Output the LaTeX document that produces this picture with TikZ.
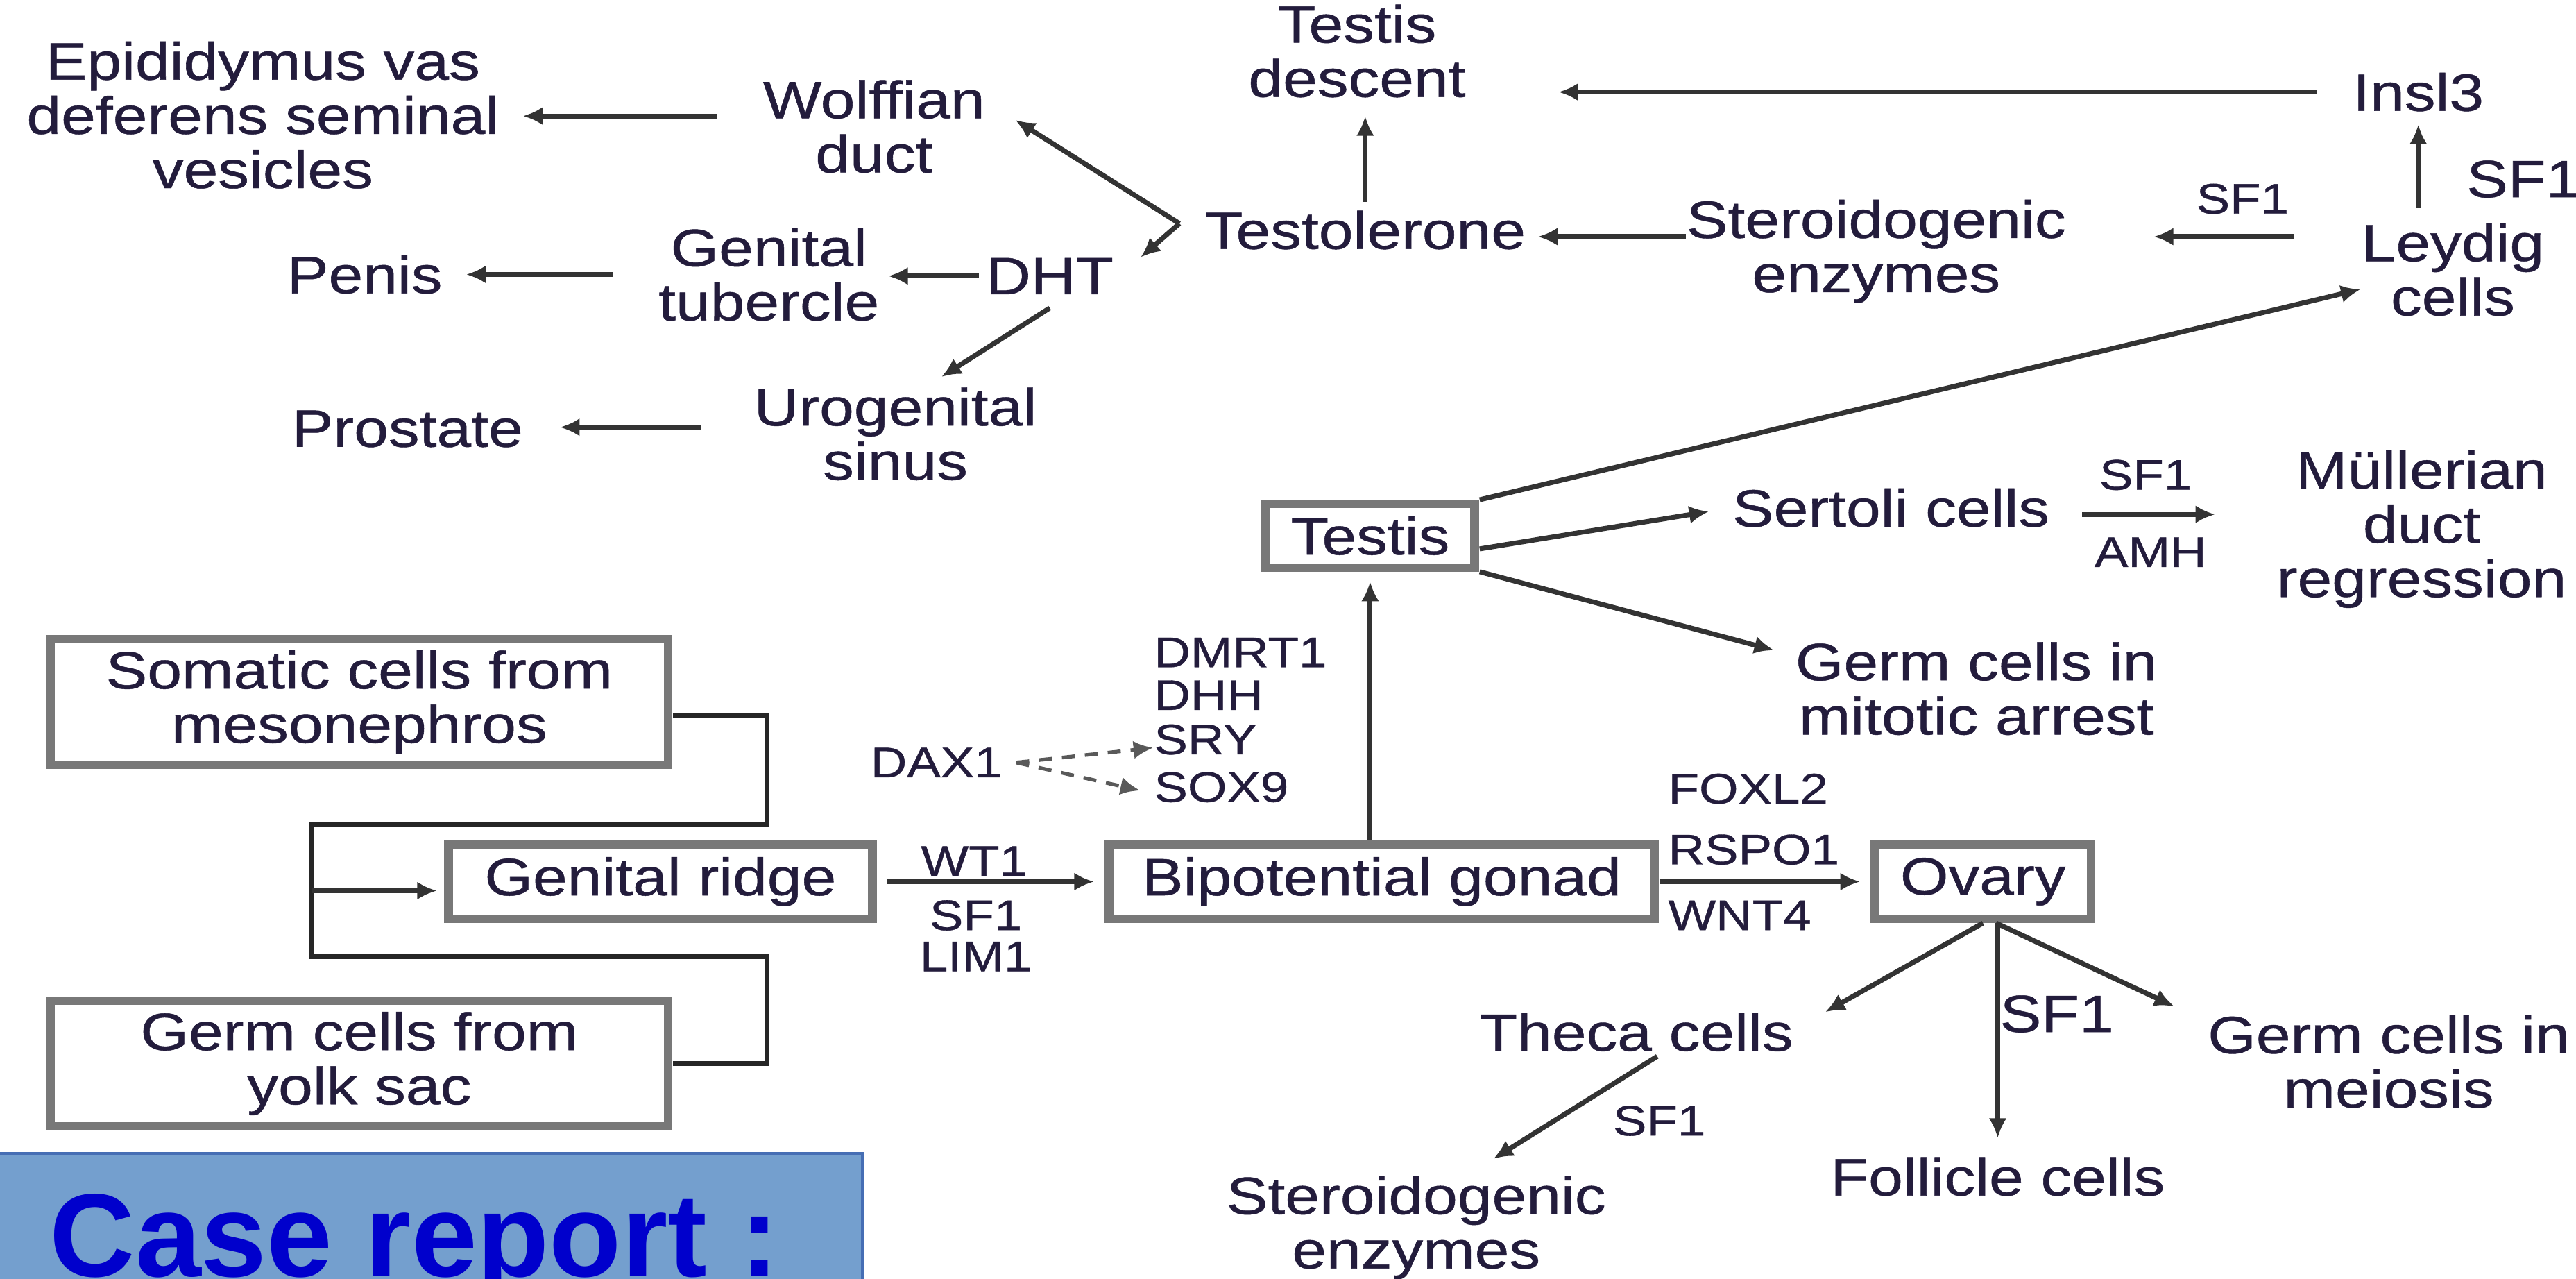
\documentclass[tikz,border=0pt]{standalone}
\usepackage{fontspec}
\setmainfont{Liberation Sans}
\newfontfamily\inkfont{Liberation Sans}[FakeBold=0.6]
\usetikzlibrary{arrows.meta}
\definecolor{ink}{RGB}{35,28,60}
\definecolor{boxgray}{RGB}{120,120,120}
\definecolor{casefill}{RGB}{116,159,206}
\definecolor{caseedge}{RGB}{70,110,180}
\definecolor{caseblue}{RGB}{0,0,204}

\begin{document}
\begin{tikzpicture}[x=0.5pt, y=-0.5pt]
    \tikzstyle{term}=[font=\inkfont\fontsize{16}{16.5}\selectfont, text=ink, align=center, inner sep=0pt, xscale=1.18]
    \tikzstyle{gene}=[font=\inkfont\fontsize{13}{13}\selectfont, text=ink, inner sep=0pt, xscale=1.18]
    \tikzstyle{cellbox}=[term, draw=boxgray, line width=2.6pt, minimum height=22.6pt]
    \tikzstyle{flow}=[-{Latex[length=6pt,width=5.5pt]}, line width=1.5pt, draw=black!80]
    \tikzstyle{dashflow}=[flow, line width=1.1pt, dash pattern=on 4pt off 3pt, draw=black!65]
    \tikzstyle{wire}=[line width=1.5pt, draw=black!85]
    % \draw (0, 0) grid (1568, 778);
    \useasboundingbox (0,0) rectangle (1568,778);
    \fill[white] (0,0) rectangle (1568,778);

    % case report banner
    \fill[casefill] (0,702) rectangle (525,790);
    \draw[caseedge, line width=0.8pt] (0,702) -- (525,702) -- (525,790);
    \node[anchor=base west, inner sep=0pt, font=\fontsize{36}{36}\selectfont\bfseries, text=caseblue] (case-report) at (30,777) {Case report :};

    % androgen side
    \node[term] (epididymis) at (160,70) {Epididymus vas\\deferens seminal\\vesicles};
    \node[term] (wolffian) at (532,77) {Wolffian\\duct};
    \node[term] (descent) at (826,31) {Testis\\descent};
    \node[term] (insl3) at (1472,56) {Insl3};
    \node[term] (testolerone) at (831,140) {Testolerone};
    \node[term] (steroid-top) at (1142,153) {Steroidogenic\\enzymes};
    \node[term] (leydig) at (1493,164) {Leydig\\cells};
    \node[gene] (sf1-leydig) at (1365,121) {SF1};
    \node[term] (sf1-insl3) at (1536,109) {SF1};
    \node[term] (tubercle) at (468,167) {Genital\\tubercle};
    \node[term] (dht) at (639,168) {DHT};
    \node[term] (penis) at (222,167) {Penis};
    \node[term] (urogenital) at (545,264) {Urogenital\\sinus};
    \node[term] (prostate) at (248,261) {Prostate};
    \coordinate (fork) at ([xshift=-7.5pt,yshift=2pt]testolerone.west);

    % gonads
    \node[cellbox, minimum width=159.3pt, minimum height=38.2pt] (somatic) at (218.7,427.2) {Somatic cells from\\mesonephros};
    \node[cellbox, minimum width=159.3pt, minimum height=38.2pt] (germ-yolk) at (218.7,647.2) {Germ cells from\\yolk sac};
    \node[cellbox, minimum width=109.3pt] (genital-ridge) at (402,536.5) {Genital ridge};
    \node[cellbox, minimum width=140.7pt] (bipotential) at (841,536.5) {Bipotential gonad};
    \node[cellbox, minimum width=55.7pt] (ovary) at (1207,536.5) {Ovary};
    \node[cellbox, minimum width=53.9pt, minimum height=19.3pt] (testis) at (834,326) {Testis};
    \node[term] (sertoli) at (1151,309) {Sertoli cells};
    \node[gene] (sf1-amh) at (1306,289) {SF1};
    \node[gene] (amh) at (1309,336) {AMH};
    \node[term] (mullerian) at (1474,322) {Müllerian\\duct\\regression};
    \node[term] (germ-arrest) at (1203,419) {Germ cells in\\mitotic arrest};
    \node[gene, anchor=west] (dmrt1) at (702,397) {DMRT1};
    \node[gene, anchor=west] (dhh) at (702,423) {DHH};
    \node[gene, anchor=west] (sry) at (702,450) {SRY};
    \node[gene, anchor=west] (sox9) at (702,479) {SOX9};
    \node[gene] (dax1) at (570,464) {DAX1};
    \node[gene] (wt1) at (593,524) {WT1};
    \node[gene] (sf1-ridge) at (594,557) {SF1};
    \node[gene] (lim1) at (594,582) {LIM1};
    \node[gene, anchor=west] (foxl2) at (1015,480) {FOXL2};
    \node[gene, anchor=west] (rspo1) at (1015,517) {RSPO1};
    \node[gene, anchor=west] (wnt4) at (1015,557) {WNT4};
    \node[term] (theca) at (996,628) {Theca cells};
    \node[term] (sf1-follicle) at (1252,617) {SF1};
    \node[term] (follicle) at (1216,716) {Follicle cells};
    \node[term] (germ-meiosis) at (1454,646) {Germ cells in\\meiosis};
    \node[gene] (sf1-theca) at (1010,682) {SF1};
    \node[term] (steroid-low) at (862,747) {Steroidogenic\\enzymes};
    \coordinate (junction) at (190,542);

    \draw[flow, shorten <=13.7pt, shorten >=7pt] ([yshift=3.2pt]wolffian.west) -- ([yshift=3.2pt]wolffian.west -| epididymis.east);
    \draw[flow] (fork) -- ([xshift=9pt,yshift=2pt]wolffian.east);
    \draw[flow] (fork) -- ([xshift=8pt]dht.north east);
    \draw[flow, shorten <=2pt, shorten >=2.5pt] (dht.west) -- (dht.west -| tubercle.east);
    \draw[flow, shorten <=13.7pt, shorten >=7pt] (tubercle.west) -- (tubercle.west -| penis.east);
    \draw[flow] ([yshift=-4pt]dht.south) -- ([xshift=14pt,yshift=3pt]urogenital.north);
    \draw[flow, shorten <=16pt, shorten >=11pt] ([yshift=2pt]urogenital.west) -- ([yshift=2pt]urogenital.west -| prostate.east);
    \draw[flow, shorten >=3.5pt] ([yshift=4.5pt]steroid-top.west) -- ([yshift=4.5pt]steroid-top.west -| testolerone.east);
    \draw[flow, shorten <=20.5pt, shorten >=26.5pt] ([yshift=4.5pt]steroid-top.east -| leydig.west) -- ([yshift=4.5pt]steroid-top.east);
    \draw[flow, shorten <=4.3pt, shorten >=3.8pt] (leydig.north -| insl3.south) -- (insl3.south);
    \draw[flow, shorten <=10.5pt, shorten >=28pt] (insl3.west) -- (insl3.west -| descent.east);
    \draw[flow, shorten <=2.5pt, shorten >=5.5pt] (testolerone.north) -- (testolerone.north |- descent.south);

    \draw[flow] (testis.north east) -- ([yshift=-6pt]leydig.west);
    \draw[flow, shorten >=7pt] ([yshift=-4pt]testis.east) -- (sertoli.west);
    \draw[flow, shorten <=9.7pt, shorten >=18.5pt] ([yshift=-2pt]sertoli.east) -- ([yshift=-2pt]sertoli.east -| mullerian.west);
    \draw[flow, shorten >=6.5pt] (testis.south east) -- ([yshift=10pt]germ-arrest.west);
    \draw[flow, shorten >=3pt] (bipotential.north -| testis.south) -- (testis.south);
    \draw[flow, shorten <=3pt, shorten >=3pt] (genital-ridge.east) -- (bipotential.west);
    \draw[flow, shorten >=3pt] (bipotential.east) -- (ovary.west);
    \draw[flow] (ovary.south) -- ([xshift=9.5pt]theca.north east);
    \draw[flow, shorten >=5.7pt] (ovary.south -| follicle.north) -- (follicle.north);
    \draw[flow] ([xshift=4pt]ovary.south) -- ([xshift=-10pt,yshift=2.5pt]germ-meiosis.north west);
    \draw[flow, shorten <=2.5pt] ([xshift=8.5pt]theca.south) -- ([xshift=23.5pt,yshift=5pt]steroid-low.north);
    \draw[dashflow] ([xshift=4pt]dax1.east) -- ([yshift=-2.5pt]sry.west);
    \draw[dashflow] ([xshift=4pt]dax1.east) -- ([xshift=-4pt,yshift=-1pt]sox9.west);

    \draw[wire] ([yshift=-4.25pt]somatic.east) -| (467,502) -| (190,582) -- (467,582) |- (germ-yolk.east);
    \draw[flow, shorten >=2pt] (junction) -- (junction -| genital-ridge.west);

\end{tikzpicture}
\end{document}
